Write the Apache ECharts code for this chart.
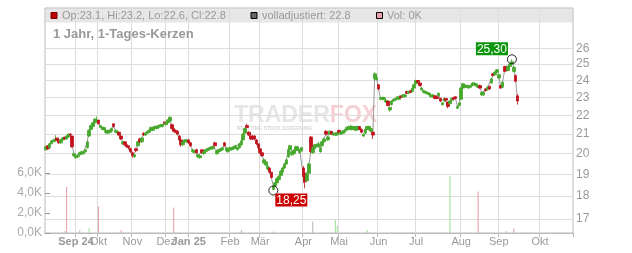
<!DOCTYPE html>
<html><head><meta charset="utf-8">
<script src="https://cdn.jsdelivr.net/npm/echarts@6/dist/echarts.min.js"></script>
<style>html,body{margin:0;padding:0;background:#fff}#c{width:632px;height:253px}</style>
</head><body><div id="c"></div><script>
// month blocks of the (trading-day) category axis
const monthLabels = ['','Sep 24','Okt','Nov','Dez','Jan 25','Feb','Mär','Apr','Mai','Jun','Jul','Aug','Sep','Okt'];
const monthDays   = [16,12,18,18,12,22,16,23,19,21,20,24,20,22,18];

const opens = [
20.2,20.4,20.3,20.5,20.6,20.65,20.8,20.7,20.55,20.7,
20.85,20.75,20.85,21.0,20.9,19.9,19.8,19.85,19.95,20.0,
20.0,20.1,20.3,20.9,21.25,21.4,21.6,21.7,21.75,21.35,
21.25,21.25,21.1,21.05,21.1,21.15,21.55,21.1,21.05,21.1,
20.9,20.5,20.6,20.45,20.4,20.25,20.05,19.85,20.25,20.4,
20.75,20.6,21.05,20.95,21.05,21.1,21.2,21.2,21.3,21.3,
21.35,21.4,21.4,21.65,21.5,21.6,21.7,21.5,21.3,21.2,
21.15,20.9,20.7,20.45,20.6,20.6,20.7,20.55,20.1,20.05,
20.2,19.85,19.8,20.2,20.0,20.1,20.15,20.2,20.25,20.25,
20.55,20.0,20.1,20.15,20.2,20.55,20.15,20.1,20.2,20.2,
20.25,20.3,20.2,20.3,20.45,20.7,21.05,21.45,21.1,20.9,
20.9,20.9,20.7,20.5,20.25,20.05,19.55,19.45,19.25,19.3,
19.1,18.3,18.45,18.6,18.75,18.95,19.1,19.3,19.5,19.85,
20.2,19.95,20.0,20.15,20.2,20.05,20.15,19.3,19.05,18.7,
19.05,20.85,20.05,20.25,20.35,20.35,20.1,20.4,20.6,21.15,
20.7,21.0,21.15,20.95,20.95,20.95,21.2,21.0,21.05,21.1,
21.2,21.25,21.25,21.25,21.25,21.2,21.25,21.4,21.25,20.9,
21.05,21.25,21.25,21.15,21.1,24.1,24.05,23.75,22.9,22.9,
22.9,22.75,22.8,22.3,22.6,22.8,22.85,22.95,22.9,23.1,
23.05,23.05,23.35,23.25,23.4,23.35,23.55,23.8,24.0,23.85,
23.45,23.3,23.25,23.2,23.15,23.05,23.05,23.1,23.05,23.1,
22.95,22.6,22.8,22.95,22.75,22.65,22.85,23.0,23.05,22.4,
22.55,22.9,23.55,23.6,23.6,23.55,23.6,23.7,23.75,23.7,
23.6,23.7,23.15,23.15,23.5,23.45,23.65,23.85,24.4,24.35,
24.5,24.15,23.7,23.6,24.85,24.85,24.6,24.85,25.0,24.55,
24.3,23.1];
const closes = [
20.35,20.25,20.5,20.65,20.7,20.75,20.7,20.55,20.7,20.8,
20.75,20.9,21.0,20.95,20.35,20.0,19.9,19.9,20.05,20.1,
20.1,20.2,20.6,21.2,21.45,21.6,21.8,21.75,21.55,21.45,
21.35,21.35,21.2,21.15,21.2,21.3,21.4,21.2,21.15,20.95,
20.75,20.6,20.45,20.35,20.3,20.1,19.9,19.95,20.15,20.6,
20.6,20.8,20.95,21.05,21.15,21.2,21.35,21.3,21.4,21.4,
21.45,21.5,21.5,21.55,21.6,21.75,21.9,21.3,21.15,21.1,
21.0,20.7,20.45,20.6,20.7,20.7,20.55,20.4,20.2,20.15,
20.05,19.95,19.9,20.05,20.1,20.2,20.25,20.3,20.35,20.35,
20.4,20.15,20.2,20.25,20.3,20.4,20.3,20.2,20.3,20.3,
20.35,20.4,20.3,20.5,20.65,21.0,21.3,21.35,20.95,20.75,
20.75,20.75,20.5,20.3,20.05,19.9,19.7,19.6,19.4,19.1,
18.85,18.45,18.6,18.8,18.9,19.15,19.3,19.5,19.7,20.2,
20.4,20.1,20.15,20.35,20.35,20.2,20.3,18.9,18.65,19.0,
19.5,20.1,20.3,20.45,20.45,20.5,20.3,20.6,20.75,21.0,
20.85,21.15,21.0,21.05,21.05,21.05,21.1,21.1,21.15,21.2,
21.35,21.4,21.4,21.4,21.4,21.35,21.4,21.25,21.1,21.0,
21.25,21.4,21.4,21.3,20.95,24.4,24.2,23.5,23.0,23.0,
23.0,22.85,22.55,22.45,22.8,22.9,22.95,23.05,23.0,23.0,
23.15,23.15,23.25,23.35,23.3,23.55,23.75,24.0,23.9,23.7,
23.55,23.4,23.35,23.3,23.25,23.15,23.15,22.95,22.95,23.25,
22.8,22.7,22.95,22.85,22.5,22.8,22.95,22.9,22.95,22.5,
22.7,23.55,23.8,23.7,23.7,23.65,23.7,23.85,23.85,23.8,
23.7,23.55,23.3,23.3,23.4,23.6,23.5,24.1,24.3,24.5,
24.65,24.35,23.55,23.9,24.55,24.6,24.85,25.0,25.15,24.8,
23.95,22.8];
const highs = [
20.4,20.4,20.55,20.7,20.75,20.95,20.8,20.7,20.75,20.85,
20.85,20.95,21.05,21.05,20.9,20.05,19.95,19.95,20.1,20.15,
20.15,20.25,20.65,21.25,21.5,21.65,21.85,21.95,21.75,21.5,
21.4,21.4,21.3,21.2,21.25,21.35,21.55,21.25,21.2,21.1,
20.95,20.65,20.6,20.5,20.4,20.3,20.1,20.0,20.3,20.65,
20.8,20.85,21.1,21.1,21.2,21.25,21.4,21.35,21.45,21.45,
21.5,21.55,21.55,21.65,21.65,21.8,21.95,21.55,21.35,21.25,
21.2,20.95,20.7,20.65,20.75,20.75,20.75,20.6,20.25,20.2,
20.25,20.0,19.95,20.2,20.15,20.25,20.3,20.35,20.4,20.4,
20.6,20.2,20.25,20.3,20.35,20.6,20.35,20.25,20.35,20.35,
20.4,20.45,20.35,20.55,20.7,21.05,21.35,21.55,21.15,20.95,
20.95,20.95,20.75,20.5,20.3,20.1,19.75,19.65,19.45,19.35,
19.1,18.5,18.65,18.85,18.95,19.2,19.35,19.55,19.75,20.25,
20.45,20.15,20.2,20.4,20.4,20.25,20.35,19.4,19.1,19.1,
19.55,20.9,20.35,20.5,20.5,20.6,20.35,20.65,20.8,21.2,
20.9,21.2,21.15,21.1,21.1,21.1,21.2,21.15,21.2,21.25,
21.4,21.45,21.5,21.45,21.45,21.4,21.45,21.4,21.3,21.05,
21.3,21.45,21.45,21.35,21.15,24.5,24.3,23.75,23.05,23.05,
23.05,22.9,22.8,22.5,22.85,22.95,23.0,23.1,23.05,23.1,
23.2,23.2,23.4,23.4,23.45,23.6,23.8,24.05,24.0,23.9,
23.6,23.45,23.4,23.35,23.3,23.2,23.2,23.1,23.05,23.3,
23.0,22.75,23.0,22.95,22.75,22.85,23.0,23.05,23.1,22.55,
22.75,23.6,23.85,23.75,23.75,23.7,23.75,23.9,23.9,23.85,
23.75,23.75,23.35,23.35,23.55,23.65,23.7,24.15,24.45,24.55,
24.7,24.4,23.75,23.95,24.9,24.9,24.9,25.05,25.3,24.85,
24.35,23.2];
const lows = [
20.15,20.2,20.3,20.5,20.6,20.6,20.65,20.5,20.5,20.65,
20.7,20.7,20.8,20.9,20.3,19.85,19.75,19.8,19.9,19.95,
19.95,20.05,20.25,20.85,21.2,21.35,21.55,21.65,21.5,21.3,
21.2,21.2,21.0,21.0,21.05,21.1,21.35,21.05,21.0,20.9,
20.7,20.45,20.4,20.3,20.2,20.05,19.8,19.8,20.1,20.35,
20.55,20.55,20.9,20.9,21.0,21.05,21.15,21.15,21.25,21.25,
21.3,21.35,21.35,21.5,21.45,21.55,21.65,21.25,21.1,21.05,
20.95,20.65,20.35,20.4,20.55,20.55,20.5,20.35,20.05,20.0,
20.0,19.8,19.75,20.0,19.95,20.05,20.1,20.15,20.2,20.2,
20.35,19.95,20.05,20.1,20.15,20.35,20.1,20.05,20.15,20.15,
20.2,20.25,20.15,20.25,20.4,20.65,21.0,21.3,20.9,20.7,
20.7,20.7,20.45,20.25,20.0,19.85,19.5,19.4,19.2,19.05,
18.8,18.25,18.4,18.55,18.7,18.9,19.05,19.25,19.45,19.8,
20.15,19.9,19.95,20.1,20.15,20.0,20.1,18.6,18.35,18.65,
19.0,20.05,20.0,20.2,20.3,20.3,20.05,20.35,20.55,20.95,
20.65,20.95,20.95,20.9,20.9,20.9,21.05,20.95,21.0,21.05,
21.15,21.2,21.2,21.2,21.2,21.15,21.2,21.2,21.05,20.85,
21.0,21.2,21.2,21.1,20.75,24.0,24.0,23.45,22.85,22.85,
22.85,22.7,22.5,22.2,22.55,22.75,22.8,22.9,22.85,22.95,
23.0,23.0,23.2,23.2,23.25,23.3,23.5,23.75,23.85,23.65,
23.4,23.25,23.2,23.15,23.1,23.0,23.0,22.9,22.9,23.05,
22.75,22.55,22.75,22.8,22.4,22.6,22.8,22.85,22.9,22.35,
22.5,22.85,23.5,23.55,23.55,23.5,23.55,23.65,23.7,23.65,
23.55,23.5,23.1,23.1,23.35,23.4,23.45,23.8,24.25,24.3,
24.45,24.1,23.5,23.55,24.5,24.55,24.55,24.8,24.95,24.5,
23.9,22.6];

// volume (thousands) on the few days with turnover
const volIndex = [10,11,18,23,28,40,68,104,121,142,154,155,171,195,215,230,245,249];
const volK     = [0.2,4.6,0.3,0.5,2.65,0.3,2.55,0.3,0.15,1.15,1.35,0.7,0.3,0.1,5.7,4.15,0.2,0.45];
const volDir   = ['u','d','u','u','d','d','d','n','d','n','u','u','u','d','u','d','u','d'];

const priceTicks = [17,18,19,20,21,22,23,24,25,26];
const volTicks = [0,2,4,6];

const FONT = '"Liberation Sans", Arial, sans-serif';
const UP = '#46a82c', DOWN = '#c2121c';
const VOLCOL = {u:'#9fdc98', d:'#e99aa6', n:'#b5b5b5'};

const cats = [], labelAt = [], isStart = [], showLabel = [];
monthLabels.forEach((lab, m) => {
  for (let k = 0; k < monthDays[m]; k++) {
    cats.push(m + '_' + k);
    const s = (k === 0 && m > 0);
    isStart.push(s);
    showLabel.push(k === 0);
    labelAt.push(k === 0 ? lab : '');
  }
});

const candles = opens.map((o, i) => [o, closes[i], lows[i], highs[i]]);
const volData = closes.map(() => 0);
volIndex.forEach((idx, j) => {
  volData[idx] = {value: volK[j], itemStyle: {color: VOLCOL[volDir[j]]}};
});
const last = opens.length - 1;
const legendTxt = 'Op:' + opens[last] + ', Hi:' + highs[last] + ', Lo:' + lows[last] + ', Cl:' + closes[last];
const fmtDe = v => v.toFixed(2).replace('.', ',');

const chart = echarts.init(document.getElementById('c'), null, {renderer: 'canvas'});
chart.setOption({
  animation: false,
  textStyle: {fontFamily: FONT},
  grid: {left: 45, right: 59, top: 8, bottom: 20, show: true, borderColor: '#bbb', borderWidth: 1, backgroundColor: 'transparent'},
  xAxis: {
    type: 'category', data: cats, boundaryGap: true,
    axisLine: {show: true, lineStyle: {color: '#bbb'}},
    axisTick: {show: true, interval: i => isStart[i], length: 4, lineStyle: {color: '#bbb'}},
    axisLabel: {
      interval: i => showLabel[i], margin: 3, color: '#999', fontSize: 11, fontFamily: FONT,
      formatter: (v, i) => { const l = labelAt[i]; return /\d/.test(l) ? '{b|' + l + '}' : l; },
      rich: {b: {fontWeight: 'bold', color: '#999', fontSize: 11, fontFamily: FONT}}
    },
    splitLine: {show: true, interval: i => isStart[i], lineStyle: {color: '#ddd', width: 1}}
  },
  yAxis: [
    {type: 'log', logBase: 10, min: 16.418, max: 28.747, position: 'right',
     axisLine: {show: false}, axisTick: {show: false}, axisLabel: {show: false}, splitLine: {show: false}},
    {type: 'value', min: 0, max: 22.5, position: 'left',
     axisLine: {show: false},
     axisTick: {show: true, inside: true, length: 5, customValues: volTicks, lineStyle: {color: '#999'}},
     axisLabel: {customValues: volTicks, formatter: v => v.toFixed(1).replace('.', ',') + 'K', color: '#aaa', fontSize: 12, margin: 3, fontFamily: FONT},
     splitLine: {show: false}}
  ],
  graphic: [
    {type: 'rect', shape: {x: 45.5, y: 8.5, width: 527, height: 14}, style: {fill: '#e6e6e6'}, z: -5, silent: true},
    {type: 'rect', shape: {x: 51, y: 12.5, width: 6, height: 6}, style: {fill: '#c00000', stroke: '#700', lineWidth: 1}, z: 5},
    {type: 'text', x: 62, y: 15.8, style: {text: legendTxt, fill: '#999', font: '11px ' + FONT, verticalAlign: 'middle'}, z: 5},
    {type: 'rect', shape: {x: 251, y: 12.5, width: 6, height: 6}, style: {fill: '#666', stroke: '#000', lineWidth: 1}, z: 5},
    {type: 'text', x: 262, y: 15.8, style: {text: 'volladjustiert: ' + closes[last], fill: '#999', font: '11px ' + FONT, verticalAlign: 'middle'}, z: 5},
    {type: 'rect', shape: {x: 376.5, y: 12.5, width: 6, height: 6}, style: {fill: '#eaa3ad', stroke: '#000', lineWidth: 1}, z: 5},
    {type: 'text', x: 387, y: 15.8, style: {text: 'Vol: 0K', fill: '#999', font: '11px ' + FONT, verticalAlign: 'middle'}, z: 5},
    {type: 'text', x: 53, y: 34, style: {text: '1 Jahr, 1-Tages-Kerzen', fill: '#999', font: 'bold 13px ' + FONT, verticalAlign: 'middle'}, z: 5},
    {type: 'text', x: 234, y: 116, style: {text: '{a|TRADER}{b|FOX}', verticalAlign: 'middle',
      rich: {a: {fill: '#e6e6e6', font: 'bold 23px ' + FONT}, b: {fill: '#f6d0d5', font: 'bold 23px ' + FONT}}}, z: -4, silent: true},
    {type: 'text', x: 237, y: 129, style: {text: 'REALTIME STOCK SCREENING', fill: '#d6d6d6', font: 'bold 5px ' + FONT, verticalAlign: 'middle'}, z: -4, silent: true}
  ],
  series: [
    {type: 'line', data: [], yAxisIndex: 0, silent: true,
     markLine: {silent: true, symbol: 'none', z: 0, animation: false,
       lineStyle: {color: '#ddd', type: 'solid', width: 1},
       label: {show: true, position: 'end', distance: 3, color: '#999', fontSize: 12, fontFamily: FONT, formatter: p => String(p.value)},
       emphasis: {disabled: true},
       data: priceTicks.map(v => ({yAxis: v}))}},
    {type: 'bar', data: volData, yAxisIndex: 1, barWidth: 1, z: 1, silent: true, itemStyle: {color: '#b5b5b5'}},
    {type: 'line', data: closes, yAxisIndex: 0, symbol: 'none', z: 2, silent: true,
     lineStyle: {color: '#999', width: 1}},
    {type: 'candlestick', data: candles, yAxisIndex: 0, barWidth: 3, z: 3,
     itemStyle: {color: UP, color0: DOWN, borderColor: UP, borderColor0: DOWN, borderWidth: 0.8},
     markPoint: {
       symbol: 'circle', symbolSize: 9, z: 10, animation: false,
       itemStyle: {color: 'rgba(0,0,0,0)', borderColor: '#222', borderWidth: 1},
       label: {show: true, color: '#fff', fontSize: 12, fontFamily: FONT, padding: [1, 1, 0, 1], lineHeight: 12,
               formatter: p => fmtDe(p.value)},
       data: [
         {type: 'max', valueDim: 'highest', label: {position: [-31, -12], backgroundColor: '#0a960a'}},
         {type: 'min', valueDim: 'lowest', label: {position: [7, 8], backgroundColor: '#cc0000'}}
       ]
     }}
  ]
});
</script></body></html>
